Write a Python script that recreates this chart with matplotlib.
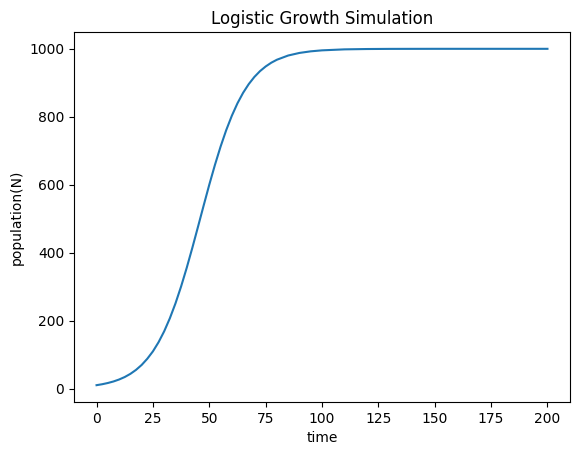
import matplotlib
matplotlib.use("Agg")
import matplotlib.pyplot as plt

time = [0, 2.5, 5, 7.5, 10, 12.5, 15, 17.5, 20, 22.5, 25, 27.5, 30, 32.5, 35,
        37.5, 40, 42.5, 45, 47.5, 50, 52.5, 55, 57.5, 60, 62.5, 65, 67.5, 70,
        72.5, 75, 77.5, 80, 85, 90, 95, 100, 110, 120, 130, 140, 150, 160,
        170, 180, 190, 200]
population = [10, 12.8, 16.4, 20.9, 26.7, 34.0, 43.3, 55.0, 69.5, 87.7, 109.5,
              136.4, 168.6, 206.7, 250.6, 300.5, 355.5, 414.6, 476.2, 538.6,
              600.0, 658.1, 711.9, 760.4, 802.9, 839.6, 870.5, 896.1, 917.2,
              934.3, 948.0, 959.1, 967.9, 980.3, 987.9, 992.6, 995.5, 998.4,
              999.4, 999.8, 999.9, 1000, 1000, 1000, 1000, 1000, 1000]

fig = plt.figure(figsize=(5.8, 4.55), dpi=100)
ax = fig.add_axes([74/580, 1 - 402/455, 496/580, 370/455])
ax.plot(time, population, color="#1f77b4")
ax.set_title("Logistic Growth Simulation")
ax.set_xlabel("time")
ax.set_ylabel("population(N)")
fig.savefig("out.png", dpi=100)
